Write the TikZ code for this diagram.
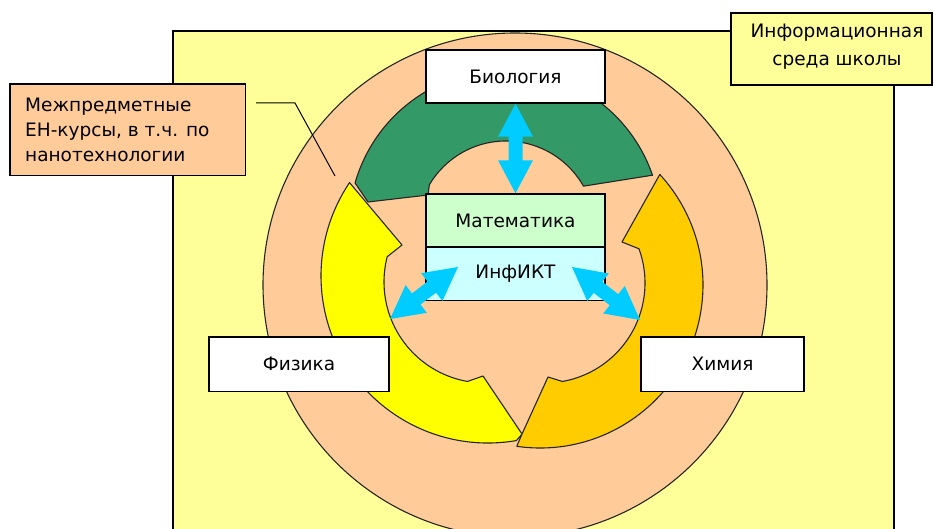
\documentclass[tikz,border=0pt]{standalone}
\usepackage{fontspec}
\setmainfont{DejaVu Sans}
\usetikzlibrary{calc}
\definecolor{bgyellow}{HTML}{FFFF99}
\definecolor{peach}{HTML}{FFCC99}
\definecolor{segGreen}{HTML}{339966}
\definecolor{segYellow}{HTML}{FFFF00}
\definecolor{segOrange}{HTML}{FFCC00}
\definecolor{mathGreen}{HTML}{CCFFCC}
\definecolor{infCyan}{HTML}{CCFFFF}
\definecolor{arrCyan}{HTML}{00CCFF}
\newcommand\dblarr[2]{%
  \coordinate (ha) at ($(#1)!33pt!(#2)$);
  \coordinate (hb) at ($(#2)!33pt!(#1)$);
  \fill[arrowfill] (#1) -- ($(ha)!17.5pt!90:(#1)$) -- ($(ha)!7pt!90:(#1)$)
    -- ($(hb)!7pt!-90:(#2)$) -- ($(hb)!17.5pt!-90:(#2)$) -- (#2)
    -- ($(hb)!17.5pt!90:(#2)$) -- ($(hb)!7pt!90:(#2)$)
    -- ($(ha)!7pt!-90:(#1)$) -- ($(ha)!17.5pt!-90:(#1)$) -- cycle;}
\begin{document}
\begin{tikzpicture}[x=1pt,y=-1pt,
  seg/.style={draw=black!85, line width=1.1pt, line join=round},
  boxbase/.style={draw=black, line width=1.4pt, inner sep=0pt,
    font=\fontsize{18.5}{22}\selectfont},
  whitebox/.style={boxbase, fill=white},
  arrowfill/.style={fill=arrCyan},
  txt/.style={inner sep=0pt, font=\fontsize{18.5}{25}\selectfont}]
\useasboundingbox (0,0) rectangle (934,529);
\clip (0,0) rectangle (934,529);
\fill[white] (0,0) rectangle (934,529);
% background
\filldraw[fill=bgyellow, draw=black, line width=1.4pt] (173,31) rectangle (894,560);
% outer circle
\filldraw[fill=peach, draw=black!85, line width=1.1pt] (515,285) circle[radius=252];
% green segment
\filldraw[seg, fill=segGreen] (428,195) -- (368,202) -- ($(505,226)+(196:156)$)
  arc[start angle=196, end angle=341, radius=156]
  -- ($(506,230)+(330.5:89)$) arc[start angle=330.5, end angle=210.6, radius=89] -- cycle;
% yellow segment
\filldraw[seg, fill=segYellow] ($(488,276)+(214:167)$) -- (402,245) -- ($(485,282)+(194.5:101)$)
  arc[start angle=194.5, end angle=100, radius=101]
  -- (483,376) -- (522,434) -- ($(488,276)+(80.2:167)$)
  arc[start angle=80.2, end angle=214, radius=167] -- cycle;
% orange segment
\filldraw[seg, fill=segOrange] ($(540,285)+(-42.7:163)$) -- (622,242) -- ($(545,283)+(340:100)$)
  arc[start angle=340, end angle=440, radius=100]
  -- (548,377) -- (522,434) -- ($(540,285)+(98.2:163)$)
  arc[start angle=98.2, end angle=-42.7, radius=163] -- cycle;
% boxes
\node[whitebox, minimum width=179, minimum height=53] (bio) at (515.5,76.5) {Биология};
\node[boxbase, fill=mathGreen, minimum width=179, minimum height=53] (math) at (515.5,220.5) {Математика};
\node[boxbase, fill=infCyan, minimum width=179, minimum height=53.5] (inf) at (515.5,273.7) {ИнфИКТ};
\node[whitebox, minimum width=180, minimum height=54.5] (fiz) at (299,364.2) {Физика};
\node[whitebox, minimum width=163, minimum height=54.5] (him) at (722.5,364.2) {Химия};
% arrows
\coordinate (la) at (458,267);
\coordinate (lb) at (390,319);
\coordinate (ra) at (572,267);
\coordinate (rb) at (640,320);
\dblarr{bio.south}{math.north}
\dblarr{la}{lb}
\dblarr{ra}{rb}
% left label
\node[boxbase, fill=peach, minimum width=235.5, minimum height=91.7] (lbox) at (127.7,129.8) {};
\node[txt, anchor=west, align=left] (ltext) at (25,129.5) {Межпредметные\\ЕН-курсы, в т.ч. по\\нанотехнологии};
\coordinate (c1) at (256,103);
\coordinate (c2) at (295,103);
\coordinate (c3) at (335,176);
\draw[black, line width=1pt] (c1) -- (c2) -- (c3);
% info box
\node[boxbase, fill=bgyellow, minimum width=201, minimum height=72] (ibox) at (831.5,49) {};
\node[txt, align=center, font=\fontsize{18.5}{28}\selectfont] (itext) at (837,47) {Информационная\\среда школы};
\end{tikzpicture}
\end{document}
